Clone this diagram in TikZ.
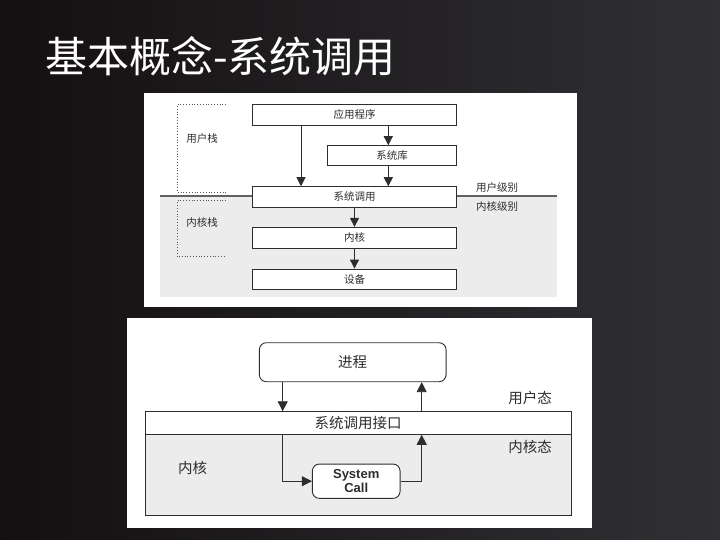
\documentclass[tikz,border=0pt]{standalone}
\usepackage{fontspec}
\setmainfont{Liberation Sans}
\newfontfamily\cjk{Noto Sans CJK SC}
\usetikzlibrary{arrows.meta,calc}
\definecolor{bgL}{RGB}{20,15,17}
\definecolor{bgR}{RGB}{48,48,52}
\definecolor{panelgray}{RGB}{236,236,236}
\definecolor{ink}{RGB}{45,45,45}
\tikzset{
  box/.style={draw=ink, line width=0.9pt, fill=white, inner sep=0pt, font=\cjk\fontsize{10.5}{12}\selectfont, text=ink},
  lbl/.style={inner sep=0pt, font=\cjk\fontsize{10.5}{12}\selectfont, text=ink},
  lbl2/.style={inner sep=0pt, font=\cjk\fontsize{14.5}{16}\selectfont, text=ink},
  arr/.style={draw=ink, line width=0.9pt, -{Triangle[width=9pt,length=9pt]}},
  arrb/.style={draw=ink, line width=0.9pt, -{Triangle[width=10pt,length=10pt]}},
  brk/.style={draw=ink!80, line width=0.8pt, dotted},
  rbox/.style={draw=ink, line width=0.9pt, fill=white, rounded corners=7pt, inner sep=0pt}
}
\begin{document}
\begin{tikzpicture}[x=1pt,y=-1pt]
\useasboundingbox (0,0) rectangle (720,540);
\shade[left color=bgL, right color=bgR] (0,0) rectangle (720,540);
% title
\node[anchor=west, inner sep=0pt, text=white, font=\cjk\fontsize{42}{46}\selectfont] (title) at (45,56) {基本概念-系统调用};

% ---------- top figure ----------
\fill[white] (144,93) rectangle (577,307);
\fill[panelgray] (160,196) rectangle (557,297);
\draw[draw=ink!75, line width=1.3pt] (160,196) -- (557,196);
\node[box, minimum width=204.4pt, minimum height=20.7pt] (app) at (354.5,114.7) {应用程序};
\node[box, minimum width=129.4pt, minimum height=20.3pt] (lib) at (392,155.8) {系统库};
\node[box, minimum width=204.4pt, minimum height=20.6pt] (sc) at (354.5,197) {系统调用};
\node[box, minimum width=204.4pt, minimum height=20.7pt] (kern) at (354.5,237.7) {内核};
\node[box, minimum width=204.4pt, minimum height=20.3pt] (dev) at (354.5,279.2) {设备};
\coordinate (xl) at (301,0);
\coordinate (xr) at (388.3,0);
\draw[arr] (app.south -| xl) -- (sc.north -| xl);
\draw[arr] (app.south -| xr) -- (lib.north -| xr);
\draw[arr] (lib.south -| xr) -- (sc.north -| xr);
\draw[arr] (sc.south) -- (kern.north);
\draw[arr] (kern.south) -- (dev.north);
% brackets
\draw[brk] (226,104.3) -- (177.3,104.3) -- (177.3,192.3) -- (226,192.3);
\draw[brk] (226,200.7) -- (177.3,200.7) -- (177.3,256.7) -- (226,256.7);
\node[lbl] (ustack) at (202,138.3) {用户栈};
\node[lbl] (kstack) at (202,222.7) {内核栈};
\node[lbl] (ulevel) at (497,187.3) {用户级别};
\node[lbl] (klevel) at (497,206.7) {内核级别};

% ---------- bottom figure ----------
\fill[white] (127,318) rectangle (592,528);
\node[draw=ink, line width=0.9pt, fill=panelgray, inner sep=0pt, minimum width=426pt, minimum height=103.3pt] (big) at (358,463.35) {};
\node[draw=ink, line width=0.9pt, fill=white, inner sep=0pt, minimum width=426pt, minimum height=22.6pt, lbl2] (iface) at (358,423) {系统调用接口};
\node[rbox, minimum width=186.7pt, minimum height=39pt, lbl2] (proc) at (352.7,362.2) {进程};
\node[rbox, minimum width=87.7pt, minimum height=34.3pt, align=center, font=\bfseries\fontsize{13}{14}\selectfont, text=ink] (call) at (356.2,481.2) {System\\Call};
\node[lbl2] (ustate) at (530,397.7) {用户态};
\node[lbl2] (kstate) at (530,446.7) {内核态};
\node[lbl2] (kname) at (192.5,468.3) {内核};
\coordinate (bl) at (282.7,0);
\coordinate (br) at (421.7,0);
\draw[arrb] (proc.south -| bl) -- (iface.north -| bl);
\draw[arrb] (iface.south -| bl) |- (call.west);
\draw[arrb] (call.east) -| (iface.south -| br);
\draw[arrb] (iface.north -| br) -- (proc.south -| br);
\end{tikzpicture}
\end{document}
